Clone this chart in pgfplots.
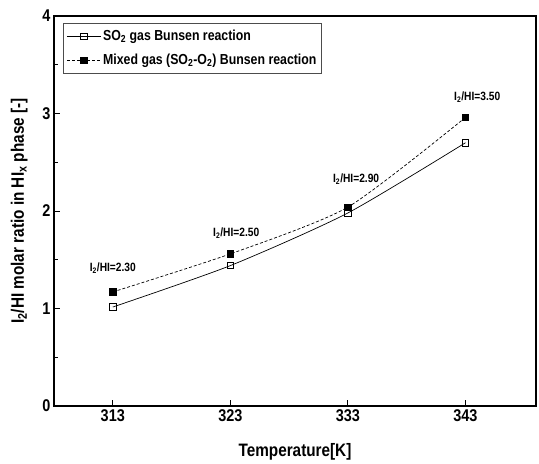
\documentclass[border=0pt]{standalone}
\usepackage{pgfplots}
\pgfplotsset{compat=1.18}
\usepackage{fontspec}
\setmainfont[FakeStretch=0.85]{Liberation Sans}
\begin{document}
\begin{tikzpicture}
\begin{axis}[
  scale only axis, width=482pt, height=390pt,
  xmin=308, xmax=349, ymin=0, ymax=4,
  xtick={313,323,333,343}, ytick={0,1,2,3,4},
  minor ytick={0.5,1.5,2.5,3.5},
  xtick pos=bottom, ytick pos=left,
  tick align=inside, major tick length=6pt, minor tick length=4pt,
  axis line style={line width=1.2pt},
  tick style={line width=0.9pt, black},
  every tick label/.append style={font=\fontsize{17}{17}\selectfont\bfseries},
  /pgf/number format/assume math mode=true,
  /pgf/number format/1000 sep={},
  xlabel={\fontsize{18}{18}\selectfont\bfseries Temperature[K]},
  ylabel={\fontsize{18}{18}\selectfont\bfseries I\textsubscript{2}/HI molar ratio in HI\textsubscript{x} phase [-]},
  xlabel style={at={(axis description cs:0.5,-0.118)}, anchor=center},
  ylabel style={at={(axis description cs:-0.072,0.5)}, anchor=center},
  legend style={at={(0.019,0.982)}, anchor=north west, font=\fontsize{14.5}{17}\selectfont\bfseries, draw=black!70, line width=0.6pt, inner xsep=3pt, inner ysep=5pt, row sep=8pt},
  legend cell align=left,
  legend image code/.code={\draw[mark repeat=2,mark phase=2,#1] plot coordinates {(0pt,0pt) (17pt,0pt) (34pt,0pt)};},
]
\addplot[black, line width=0.7pt, smooth, tension=0.4, mark=square, mark size=3.2pt, mark options={solid, fill=white, line width=0.7pt}]
  coordinates {(313,1.015) (323,1.44) (333,1.98) (343,2.70)};
\addlegendentry{SO\textsubscript{2} gas Bunsen reaction}
\addplot[black, line width=0.7pt, dashed, dash pattern=on 3pt off 2pt, smooth, tension=0.4, mark=square*, mark size=3.2pt, mark options={solid, fill=black}]
  coordinates {(313,1.17) (323,1.56) (333,2.04) (343,2.96)};
\addlegendentry{Mixed gas (SO\textsubscript{2}-O\textsubscript{2}) Bunsen reaction}
\node[font=\fontsize{12}{12}\selectfont\bfseries] at (axis cs:313,1.41) {I\textsubscript{2}/HI=2.30};
\node[font=\fontsize{12}{12}\selectfont\bfseries] at (axis cs:323.5,1.77) {I\textsubscript{2}/HI=2.50};
\node[font=\fontsize{12}{12}\selectfont\bfseries] at (axis cs:333.7,2.33) {I\textsubscript{2}/HI=2.90};
\node[font=\fontsize{12}{12}\selectfont\bfseries] at (axis cs:344,3.17) {I\textsubscript{2}/HI=3.50};
\end{axis}
\path (current axis.south west) ++(-54pt,-56pt);
\path (current axis.north east) ++(3pt,16pt);
\end{tikzpicture}
\end{document}
